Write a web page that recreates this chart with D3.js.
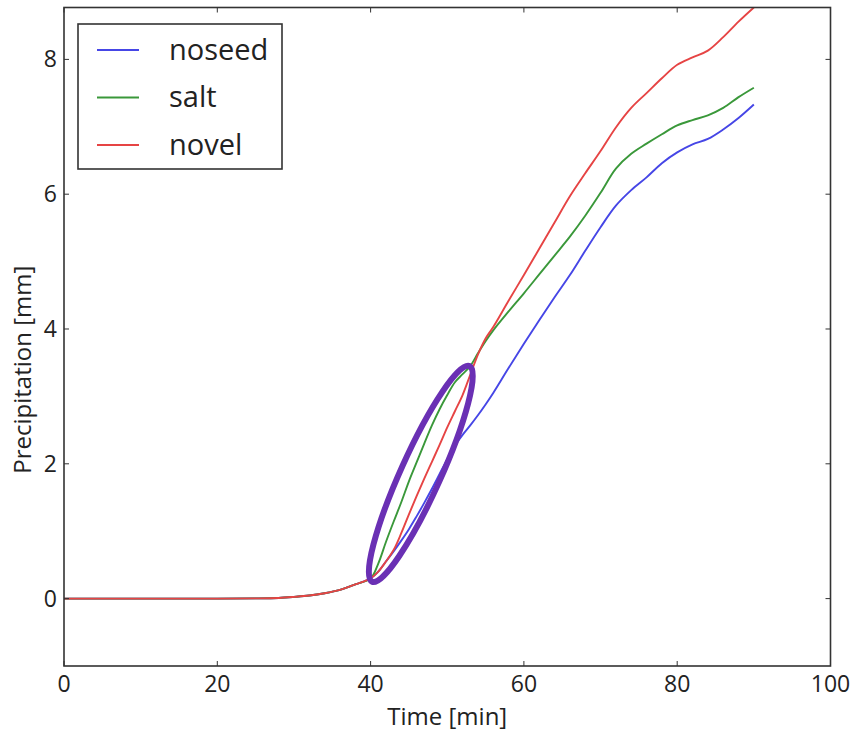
<!DOCTYPE html>
<html><head><meta charset="utf-8">
<script src="https://cdn.jsdelivr.net/npm/d3@7"></script>
<style>body{margin:0;background:#fff}svg{display:block}text{font-family:"Open Sans",sans-serif;fill:#222}</style>
</head><body>
<script>
const times = [0,10,20,25,28,30,32,34,36,38,40,41,42,43,44,45,46,47,48,49,50,51,52,53,54,55,56,58,60,62,64,66,68,70,72,74,76,78,80,82,84,86,88,90];
const base = [0,0,0,0.003,0.01,0.025,0.045,0.08,0.13,0.21,0.30];
const noseed = base.concat([0.40,0.55,0.70,0.86,1.03,1.22,1.42,1.63,1.85,2.07,2.27,2.43,2.57,2.72,2.88,3.05,3.42,3.78,4.13,4.47,4.80,5.16,5.51,5.83,6.06,6.25,6.46,6.62,6.74,6.82,6.96,7.13,7.33]);
const salt = base.concat([0.52,0.84,1.14,1.43,1.74,2.02,2.30,2.57,2.81,3.02,3.21,3.33,3.45,3.64,3.82,3.98,4.26,4.53,4.81,5.09,5.37,5.68,6.02,6.38,6.60,6.75,6.89,7.02,7.10,7.17,7.28,7.44,7.58]);
const novel = base.concat([0.40,0.55,0.72,0.97,1.25,1.52,1.78,2.03,2.28,2.54,2.78,3.02,3.32,3.62,3.86,4.03,4.42,4.80,5.19,5.58,5.97,6.31,6.64,6.99,7.28,7.50,7.72,7.92,8.03,8.13,8.33,8.56,8.77]);
const seriesNames = ["noseed","salt","novel"];
const seriesColors = ["#4646e6","#3a983a","#e64444"];
const xTicks = [0,20,40,60,80,100];
const yTicks = [0,2,4,6,8];
const ellipseTips = [[40.2,0.25],[52.9,3.45]]; // annotation ellipse end points (data units)

const W=855,H=731;
const m={l:64,r:24.5,t:7.5,b:65};
const svg=d3.select("body").append("svg").attr("width",W).attr("height",H);
const x=d3.scaleLinear().domain([0,100]).range([m.l,W-m.r]);
const y=d3.scaleLinear().domain([-1,8.77]).range([H-m.b,m.t]);
const seriesVals=[noseed,salt,novel];

svg.append("defs").append("clipPath").attr("id","clip").append("rect")
  .attr("x",x(0)).attr("y",y(8.77)).attr("width",x(100)-x(0)).attr("height",y(-1)-y(8.77));

const line=d3.line().x(d=>x(d[0])).y(d=>y(d[1])).curve(d3.curveCatmullRom.alpha(0.5));
const g=svg.append("g").attr("clip-path","url(#clip)");
seriesVals.forEach((vals,i)=>{
  g.append("path").datum(times.map((t,j)=>[t,vals[j]]))
   .attr("d",line).attr("fill","none").attr("stroke",seriesColors[i]).attr("stroke-width",1.9)
   .attr("stroke-linejoin","round");
});

// annotation ellipse
const p1=[x(ellipseTips[0][0]),y(ellipseTips[0][1])], p2=[x(ellipseTips[1][0]),y(ellipseTips[1][1])];
const cx=(p1[0]+p2[0])/2, cy=(p1[1]+p2[1])/2;
const rx=Math.hypot(p2[0]-p1[0],p2[1]-p1[1])/2;
const ang=Math.atan2(p2[1]-p1[1],p2[0]-p1[0])*180/Math.PI;
svg.append("ellipse").attr("cx",0).attr("cy",0).attr("rx",rx).attr("ry",20)
  .attr("transform",`translate(${cx},${cy}) rotate(${ang})`)
  .attr("fill","none").attr("stroke","#6a30b4").attr("stroke-width",6);

// axes with inward ticks on all sides
const axCol="#333";
const fr=svg.append("g");
fr.append("rect").attr("x",x(0)).attr("y",y(8.77)).attr("width",x(100)-x(0)).attr("height",y(-1)-y(8.77))
  .attr("fill","none").attr("stroke",axCol).attr("stroke-width",1.6);
const tl=5;
xTicks.forEach(t=>{
  fr.append("line").attr("x1",x(t)).attr("x2",x(t)).attr("y1",y(-1)).attr("y2",y(-1)-tl).attr("stroke",axCol);
  fr.append("line").attr("x1",x(t)).attr("x2",x(t)).attr("y1",y(8.77)).attr("y2",y(8.77)+tl).attr("stroke",axCol);
  svg.append("text").attr("x",x(t)).attr("y",y(-1)+26).attr("text-anchor","middle").attr("font-size",23).text(t);
});
yTicks.forEach(t=>{
  fr.append("line").attr("y1",y(t)).attr("y2",y(t)).attr("x1",x(0)).attr("x2",x(0)+tl).attr("stroke",axCol);
  fr.append("line").attr("y1",y(t)).attr("y2",y(t)).attr("x1",x(100)).attr("x2",x(100)-tl).attr("stroke",axCol);
  svg.append("text").attr("x",x(0)-7).attr("y",y(t)).attr("dy","0.35em").attr("text-anchor","end").attr("font-size",23).text(t);
});
svg.append("text").attr("x",(x(0)+x(100))/2).attr("y",725).attr("text-anchor","middle").attr("font-size",24).text("Time [min]");
svg.append("text").attr("transform",`translate(31,${(y(-1)+y(8.77))/2+33}) rotate(-90)`).attr("text-anchor","middle").attr("font-size",24).text("Precipitation [mm]");

// legend
const lg=svg.append("g");
lg.append("rect").attr("x",78).attr("y",24).attr("width",204).attr("height",145).attr("fill","#fff").attr("stroke",axCol).attr("stroke-width",1.6);
seriesNames.forEach((n,i)=>{
  const yy=50+i*47.5;
  lg.append("line").attr("x1",97).attr("x2",139).attr("y1",yy).attr("y2",yy).attr("stroke",seriesColors[i]).attr("stroke-width",1.9);
  lg.append("text").attr("x",169).attr("y",yy).attr("dy","0.33em").attr("font-size",29).text(n);
});
</script>
</body></html>
